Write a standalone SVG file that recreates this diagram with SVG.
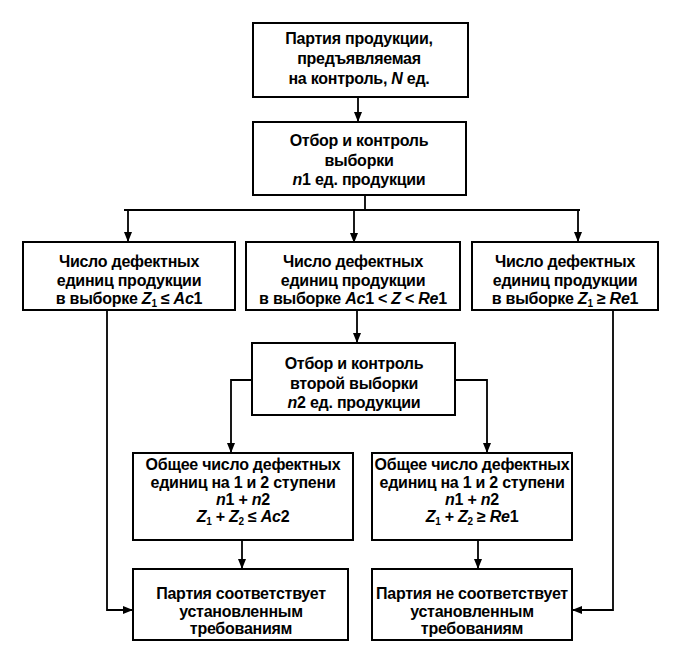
<svg xmlns="http://www.w3.org/2000/svg" width="676" height="657" viewBox="0 0 676 657">
<style>
.box{fill:#fff;stroke:#000;stroke-width:2}
.t{font-family:"Liberation Sans",Arial,sans-serif;font-weight:bold;font-size:16px;letter-spacing:-0.25px;fill:#000;text-anchor:middle}
.i{font-style:italic}
.c{fill:none;stroke:#000;stroke-width:1.8}
</style>
<defs>
<marker id="ah" markerWidth="10" markerHeight="10" refX="9" refY="5" orient="auto" markerUnits="userSpaceOnUse">
<path d="M0,1 L10,5 L0,9 Z" fill="#000"/>
</marker>
</defs>
<rect width="676" height="657" fill="#fff"/>
<g id="connectors">
<path class="c" d="M358,97 V121" marker-end="url(#ah)"/>
<path class="c" d="M365,195 V210 M124,210 H580"/>
<path class="c" d="M128,210 V241" marker-end="url(#ah)"/>
<path class="c" d="M354,210 V242" marker-end="url(#ah)"/>
<path class="c" d="M578,210 V241" marker-end="url(#ah)"/>
<path class="c" d="M107,310 V610 H132" marker-end="url(#ah)"/>
<path class="c" d="M613,310 V610 H573" marker-end="url(#ah)"/>
<path class="c" d="M357,310 V342" marker-end="url(#ah)"/>
<path class="c" d="M252,380 H231 V452" marker-end="url(#ah)"/>
<path class="c" d="M455,380 H487 V452" marker-end="url(#ah)"/>
<path class="c" d="M242,540 V568" marker-end="url(#ah)"/>
<path class="c" d="M478,540 V568" marker-end="url(#ah)"/>
</g>
<g id="n1">
<rect class="box" x="253" y="23" width="215" height="74"/>
<text class="t" x="359" y="44">Партия продукции,</text>
<text class="t" x="359" y="64">предъявляемая</text>
<text class="t" x="359" y="84">на контроль, <tspan class="i">N</tspan> ед.</text>
</g>
<g id="n2">
<rect class="box" x="253" y="122" width="213" height="73"/>
<text class="t" x="359" y="146">Отбор и контроль</text>
<text class="t" x="359" y="166">выборки</text>
<text class="t" x="359" y="185"><tspan class="i">n</tspan>1 ед. продукции</text>
</g>
<g id="n3">
<rect class="box" x="23" y="242" width="212" height="68"/>
<text class="t" x="129" y="267">Число дефектных</text>
<text class="t" x="129" y="286">единиц продукции</text>
<text class="t" x="129" y="304">в выборке <tspan class="i">Z</tspan><tspan font-size="10" dy="3">1</tspan><tspan dy="-3"> ≤ </tspan><tspan class="i">Ac</tspan>1</text>
</g>
<g id="n4">
<rect class="box" x="246" y="242" width="214" height="68"/>
<text class="t" x="353" y="267">Число дефектных</text>
<text class="t" x="353" y="286">единиц продукции</text>
<text class="t" x="353" y="304">в выборке <tspan class="i">Ac</tspan>1 &lt; <tspan class="i">Z</tspan> &lt; <tspan class="i">Re</tspan>1</text>
</g>
<g id="n5">
<rect class="box" x="472" y="242" width="186" height="68"/>
<text class="t" x="565" y="267">Число дефектных</text>
<text class="t" x="565" y="286">единиц продукции</text>
<text class="t" x="565" y="304">в выборке <tspan class="i">Z</tspan><tspan font-size="10" dy="3">1</tspan><tspan dy="-3"> ≥ </tspan><tspan class="i">Re</tspan>1</text>
</g>
<g id="n6">
<rect class="box" x="252" y="343" width="203" height="72"/>
<text class="t" x="354" y="369">Отбор и контроль</text>
<text class="t" x="354" y="389">второй выборки</text>
<text class="t" x="354" y="408"><tspan class="i">n</tspan>2 ед. продукции</text>
</g>
<g id="n7">
<rect class="box" x="133" y="453" width="220" height="87"/>
<text class="t" x="243" y="470">Общее число дефектных</text>
<text class="t" x="243" y="488">единиц на 1 и 2 ступени</text>
<text class="t" x="243" y="505"><tspan class="i">n</tspan>1 + <tspan class="i">n</tspan>2</text>
<text class="t" x="243" y="522"><tspan class="i">Z</tspan><tspan font-size="10" dy="3">1</tspan><tspan dy="-3"> + </tspan><tspan class="i">Z</tspan><tspan font-size="10" dy="3">2</tspan><tspan dy="-3"> ≤ </tspan><tspan class="i">Ac</tspan>2</text>
</g>
<g id="n8">
<rect class="box" x="372" y="453" width="200" height="87"/>
<text class="t" x="472" y="470">Общее число дефектных</text>
<text class="t" x="472" y="488">единиц на 1 и 2 ступени</text>
<text class="t" x="472" y="505"><tspan class="i">n</tspan>1 + <tspan class="i">n</tspan>2</text>
<text class="t" x="472" y="522"><tspan class="i">Z</tspan><tspan font-size="10" dy="3">1</tspan><tspan dy="-3"> + </tspan><tspan class="i">Z</tspan><tspan font-size="10" dy="3">2</tspan><tspan dy="-3"> ≥ </tspan><tspan class="i">Re</tspan>1</text>
</g>
<g id="n9">
<rect class="box" x="133" y="569" width="215" height="71"/>
<text class="t" x="241" y="599">Партия соответствует</text>
<text class="t" x="241" y="617">установленным</text>
<text class="t" x="241" y="634">требованиям</text>
</g>
<g id="n10">
<rect class="box" x="372" y="569" width="200" height="71"/>
<text class="t" x="472" y="599">Партия не соответствует</text>
<text class="t" x="472" y="617">установленным</text>
<text class="t" x="472" y="634">требованиям</text>
</g>
</svg>
